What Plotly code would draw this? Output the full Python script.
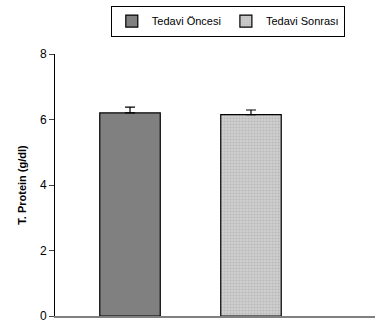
import plotly.graph_objects as go

series = ["Tedavi Öncesi", "Tedavi Sonrası"]
values = [6.2, 6.15]
errors = [0.18, 0.14]
y_ticks = [0, 2, 4, 6, 8]

fig = go.Figure()
fig.add_trace(go.Bar(
    x=[1], y=[values[0]], name=series[0], width=0.5,
    marker=dict(color="#808080", line=dict(color="black", width=1.2)),
    error_y=dict(type="data", symmetric=False, array=[errors[0]], arrayminus=[0],
                 color="black", thickness=1.2, width=5),
))
fig.add_trace(go.Bar(
    x=[2], y=[values[1]], name=series[1], width=0.5,
    marker=dict(color="#c8c8c8", line=dict(color="black", width=1.2),
                pattern=dict(shape=".", fgcolor="#a0a0a0", bgcolor="#d0d0d0", size=3, solidity=0.4)),
    error_y=dict(type="data", symmetric=False, array=[errors[1]], arrayminus=[0],
                 color="black", thickness=1.2, width=5),
))

fig.update_layout(
    width=378, height=325,
    margin=dict(l=55, r=3, t=54, b=9, autoexpand=False),
    paper_bgcolor="white", plot_bgcolor="white",
    font=dict(family="Liberation Sans, Arial, sans-serif", size=12, color="black"),
    barmode="overlay",
    showlegend=True,
    legend=dict(orientation="h", x=0.54, xanchor="center", y=1.185, yanchor="top",
                bordercolor="black", borderwidth=1, font=dict(size=11, color="black"),
                itemwidth=30, tracegroupgap=0),
    xaxis=dict(range=[0.38, 3.025], showticklabels=False, showgrid=False, zeroline=False,
               showline=True, linecolor="#808080", linewidth=1.5, ticks=""),
    yaxis=dict(range=[0, 8], tickvals=y_ticks, showgrid=False, zeroline=False,
               showline=True, linecolor="black", linewidth=1, ticks="outside", ticklen=5,
               tickfont=dict(size=12),
               title=dict(text="<b>T. Protein (g/dl)</b>", font=dict(size=11), standoff=11)),
)

fig.write_html("out.html", config={"displayModeBar": False},
               post_script="document.body.style.margin='0';document.body.style.overflow='hidden';")
